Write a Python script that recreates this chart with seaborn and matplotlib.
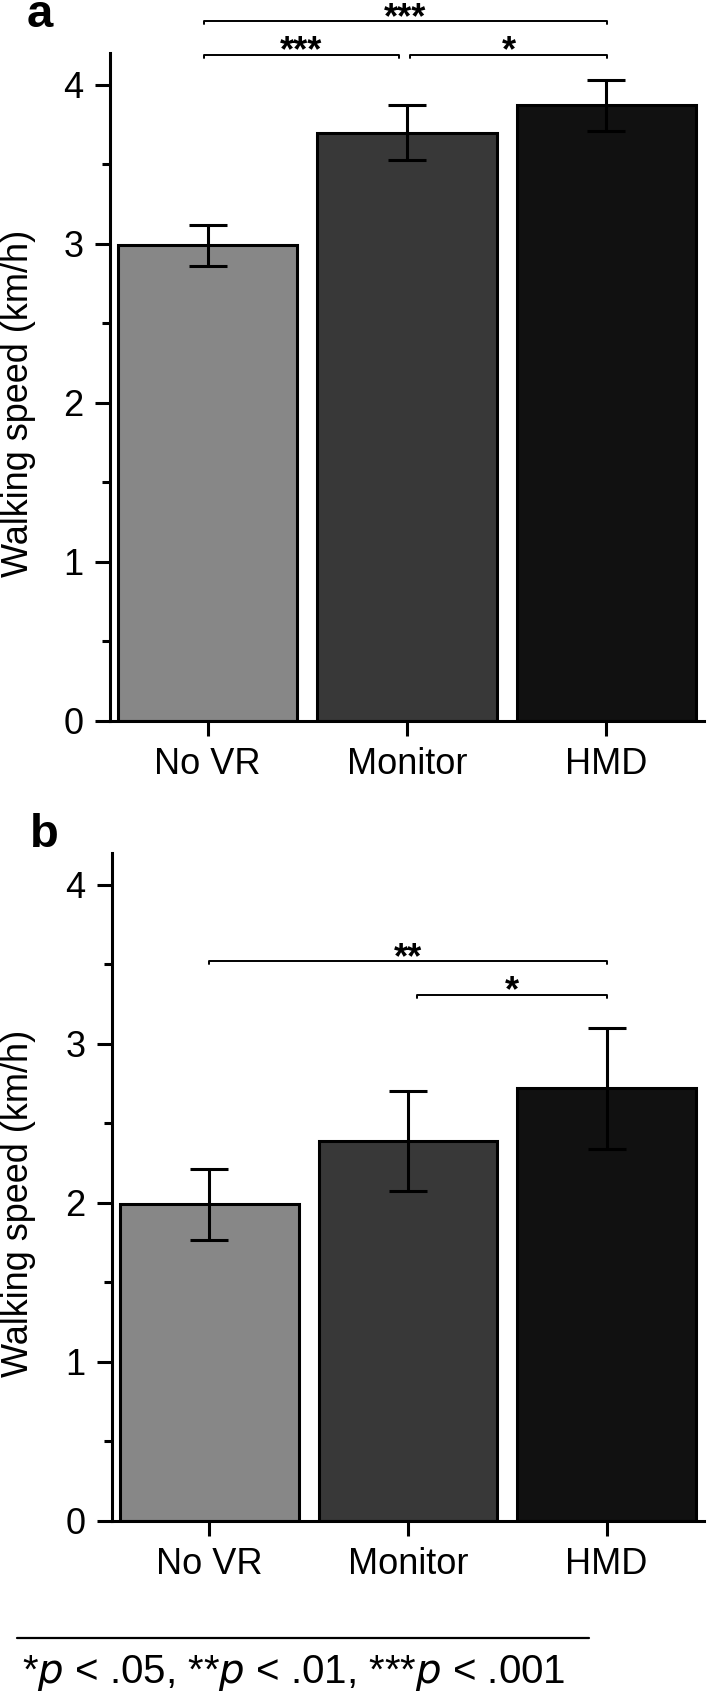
import matplotlib
matplotlib.use("Agg")
import matplotlib.pyplot as plt
import seaborn as sns
from matplotlib.lines import Line2D
from matplotlib.ticker import MultipleLocator

# data
conditions = ["No VR", "Monitor", "HMD"]
speed_a = [2.99, 3.70, 3.87]
err_a = [0.13, 0.17, 0.16]
speed_b = [1.99, 2.39, 2.72]
err_b = [0.225, 0.315, 0.38]
bar_colors = ["#878787", "#383838", "#111111"]

# significance brackets: (x1, x2, y, label)
sig_a = [(-0.02, 2.005, 4.40, "***"), (-0.02, 0.96, 4.19, "***"), (1.015, 2.005, 4.19, "*")]
sig_b = [(0.0, 2.0, 3.52, "**"), (1.045, 2.0, 3.31, "*")]

sns.set_style("ticks")
plt.rcParams["font.family"] = ["Liberation Sans", "DejaVu Sans"]
plt.rcParams.update({"text.color": "black", "axes.labelcolor": "black",
                     "xtick.color": "black", "ytick.color": "black",
                     "axes.edgecolor": "black"})

W, H = 708, 1693
fig = plt.figure(figsize=(W / 100, H / 100), dpi=100)

ax_a = fig.add_axes([110 / W, 1 - 721 / H, 594 / W, 668 / H])
ax_b = fig.add_axes([112 / W, 1 - 1521 / H, 592 / W, 668 / H])


def draw_panel(ax, vals, errs, sigs):
    sns.barplot(x=conditions, y=vals, hue=conditions, palette=bar_colors,
                width=0.9, edgecolor="black", linewidth=2.2, legend=False,
                saturation=1, ax=ax)
    ax.errorbar(range(3), vals, yerr=errs, fmt="none", ecolor="black",
                elinewidth=2.2, capsize=14, capthick=2.2)
    ax.set_xlim(-0.49, 2.49)
    ax.set_ylim(0, 4.2)
    ax.yaxis.set_major_locator(MultipleLocator(1))
    ax.yaxis.set_minor_locator(MultipleLocator(0.5))
    ax.set_ylabel("Walking speed (km/h)", fontsize=26)
    ax.set_xlabel("")
    sns.despine(ax=ax)
    for s in ["left", "bottom"]:
        ax.spines[s].set_linewidth(2.2)
    ax.tick_params(axis="both", which="major", length=11, width=2.2,
                   labelsize=26, pad=8, direction="out")
    ax.tick_params(axis="y", which="minor", length=6, width=2.2, direction="out")
    ax.tick_params(axis="x", which="minor", length=0)
    for x1, x2, y, lab in sigs:
        h = 0.02
        ax.plot([x1, x1, x2, x2], [y - h, y, y, y - h], color="black",
                lw=1.4, clip_on=False)
        ax.annotate(lab, xy=((x1 + x2) / 2, y), xytext=(0, -5),
                    textcoords="offset points", ha="center", va="baseline",
                    fontsize=26, fontweight="bold", annotation_clip=False)


draw_panel(ax_a, speed_a, err_a, sig_a)
draw_panel(ax_b, speed_b, err_b, sig_b)

ax_a.yaxis.set_label_coords((36 - 110) / 594, 0.475)
ax_b.yaxis.set_label_coords((36 - 112) / 592, 0.475)

fig.text(27 / W, 1 - 27 / H, "a", fontsize=34, fontweight="bold",
         ha="left", va="baseline")
fig.text(30 / W, 1 - 847 / H, "b", fontsize=34, fontweight="bold",
         ha="left", va="baseline")

# footnote
fig.add_artist(Line2D([17 / W, 589 / W], [1 - 1638 / H, 1 - 1638 / H],
                      color="black", lw=1.6, transform=fig.transFigure))
fig.text(22 / W, 1 - 1683 / H,
         r"*$\it{p}$ < .05, **$\it{p}$ < .01, ***$\it{p}$ < .001",
         fontsize=29, ha="left", va="baseline")

fig.savefig("out.png", dpi=100)
